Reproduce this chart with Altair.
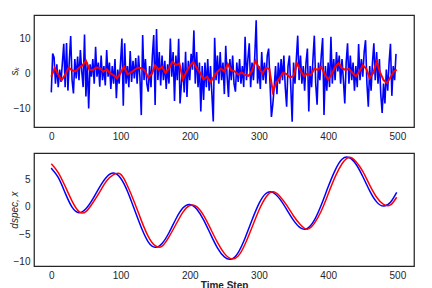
import altair as alt
import pandas as pd

# ---- top panel: noisy measurement (blue, every 2nd step) and filtered estimate (red) ----
noisy_s = [
    -5.5, 5.6, 4.5, -3.0, 2.5, -4.0, 1.0, -2.5, 3.0, 8.4,
    -4.0, 8.6, -5.0, 3.5, 10.6, -2.0, -5.8, 4.0, -1.5, 4.7,
    -2.0, 6.6, 0.5, -4.0, 11.0, -6.7, 3.0, -10.1, 2.5, -1.0,
    4.0, -3.0, 7.5, -1.0, 3.0, -3.9, 5.0, -2.0, 2.0, -3.5,
    6.6, -1.0, 3.0, -4.5, 2.0, -3.0, 4.0, -7.2, 1.0, -3.0,
    3.0, 9.9, -9.3, 8.5, -3.0, 2.0, -4.0, 6.3, -2.5, 3.5,
    -1.5, 4.3, -3.0, 5.0, -1.0, -12.0, 10.9, -2.0, 4.0, -3.0,
    -5.3, 2.0, -4.0, 5.0, 10.9, -9.1, 12.6, -2.0, 6.0, -3.5,
    5.0, -2.0, 3.5, -4.5, 2.5, -3.0, 9.9, -1.0, 6.0, -8.0,
    5.0, -2.0, 9.8, -8.7, -3.0, 3.0, -5.5, 6.1, -6.8, 3.5,
    -2.0, 5.5, 1.0, 12.2, -3.0, 6.0, -4.0, 3.0, -11.0, 2.0,
    -7.7, 3.0, -4.0, 4.0, -5.0, 2.0, -6.0, -13.8, 10.1, -2.0,
    5.0, -3.0, 6.0, -2.0, 3.0, -6.0, 7.8, -1.0, -6.8, 4.0,
    -2.0, 5.0, -3.0, -5.3, 3.0, -2.5, 4.0, -3.0, 2.0, -4.0,
    10.4, -2.0, 4.0, 8.5, -4.0, 3.0, -2.0, 5.0, 15.1, -3.0,
    2.0, -4.5, 6.0, -2.0, 3.0, -3.0, 5.0, 7.0, -3.0, -12.5,
    -9.0, -4.0, 2.0, -6.0, 3.0, -3.0, 4.0, -2.0, 5.0, -4.0,
    -9.6, 2.0, 5.0, -4.0, -13.9, 3.0, -3.0, 4.0, 10.7, -2.0,
    5.0, -3.0, 2.0, -5.0, 3.0, 7.0, -11.0, 2.0, -4.0, 4.0,
    10.7, -3.0, -9.0, 3.0, -2.0, 5.0, 10.0, -12.0, 2.0, -5.0,
    3.0, -4.0, 10.4, -3.0, 4.0, -2.0, 6.0, 0.5, 5.0, -3.0,
    4.0, -2.0, -8.7, 3.0, 8.5, -3.0, 5.0, -2.0, 3.0, -5.0,
    2.0, -4.0, 8.3, -2.0, 4.0, -1.0, 6.0, 9.4, -3.0, -9.6,
    2.0, -5.0, 3.0, 8.5, -2.0, 6.0, -3.0, 4.0, -6.0, -11.4,
    -3.0, -8.7, 1.0, -5.0, 3.0, 8.4, -6.5, 2.0, -2.0, 5.5,
]
noisy_steps = list(range(0, 2 * len(noisy_s), 2))

filtered_s = [
    -1.0, 1.5, -0.5, -2.0, -0.5, 1.5, 0.8, 0.5, 1.5, 2.2,
    3.5, 1.0, 0.9, 1.6, 1.5, 0.4, 1.1, 0.0, -0.6, -1.5,
    0.0, 1.8, -0.3, 0.1, 0.9, 1.6, 1.4, 0.8, -1.3, -0.3,
    2.2, 1.0, 1.8, 0.0, 1.3, 3.2, 2.3, 2.8, -1.8, 0.3,
    2.0, 3.2, 1.5, 0.0, -1.8, -1.0, -2.5, -1.0, 0.4, 1.3,
    0.5, 2.6, 0.8, 0.5, -0.4, 0.2, -0.5, -0.8, 0.6, 3.5,
    1.5, -0.1, 1.5, 1.2, -5.3, -2.8, -1.4, 0.1, -0.3, -1.3,
    -0.8, 2.8, 0.8, -0.9, -0.1, -0.6, 1.3, 0.9, 1.8, -0.3,
    -1.8, -0.4, 1.8, 2.8, 1.4, 0.9, 1.2, 0.1, -0.9, 0.4,
    2.2, 1.3, -1.4, 0.0, 3.2, 0.2, -2.0, -2.9, -1.2, 0.5,
    1.0,
]
filtered_steps = list(range(0, 500, 5)) + [499]

# ---- bottom panel: true state (blue) and estimate (red) ----
state_steps = list(range(0, 500, 10)) + [499]
true_x = [
    7.0, 5.3, 2.5, -0.1, -1.1, -0.4, 1.4, 3.6, 5.4, 6.1,
    5.2, 2.8, -0.5, -3.8, -6.4, -7.4, -6.7, -4.75, -2.25, -0.26,
    0.4, -0.43, -2.4, -5.0, -7.5, -9.15, -9.55, -8.35, -5.7, -2.45,
    0.53, 2.38, 2.6, 1.4, -0.5, -2.5, -3.86, -3.95, -2.46, 0.3,
    3.6, 6.6, 8.6, 8.93, 7.75, 5.47, 2.87, 0.86, 0.1, 0.8,
    2.6,
]
est_x = [
    7.8, 6.2, 3.7, 1.0, -0.9, -0.9, 0.7, 2.7, 4.7, 5.8,
    5.9, 3.8, 0.8, -2.5, -5.4, -7.1, -7.2, -5.5, -3.25, -1.05,
    0.2, 0.0, -1.6, -4.0, -6.5, -8.5, -9.5, -9.0, -6.8, -3.75,
    -0.65, 1.7, 2.7, 1.9, 0.26, -1.7, -3.3, -4.1, -3.05, -0.8,
    2.3, 5.4, 7.8, 8.95, 8.2, 6.4, 3.9, 1.7, 0.4, 0.3,
    1.7,
]

noisy_df = pd.DataFrame({"step": noisy_steps, "v": noisy_s})
filt_df = pd.DataFrame({"step": filtered_steps, "v": filtered_s})
true_df = pd.DataFrame({"step": state_steps, "v": true_x})
est_df = pd.DataFrame({"step": state_steps, "v": est_x})

W = 380
FONT = "Liberation Sans"
TXT = "#262626"
x_dom = [-25, 524]
ticks_x = [0, 100, 200, 300, 400, 500]


def xenc(title=None):
    kw = dict(values=ticks_x, grid=False, ticks=False, domain=False,
              labelPadding=4, labelFlush=False, title=title if title else None)
    return alt.X("step:Q", scale=alt.Scale(domain=x_dom, nice=False, zero=False),
                 axis=alt.Axis(**kw))


def yenc(domain, values, title):
    return alt.Y("v:Q", scale=alt.Scale(domain=domain, nice=False, zero=False),
                 axis=alt.Axis(values=values, grid=False, ticks=False, domain=False,
                               labelPadding=4, title=title, titlePadding=-6,
                               titleFontStyle="italic", titleFontWeight="normal"))


top_dom = [-15.4, 16.6]
top_blue = alt.Chart(noisy_df).mark_line(color="#0000ff", strokeWidth=1.6).encode(
    x=xenc(), y=yenc(top_dom, [-10, 0, 10], "sₖ"))
top_red = alt.Chart(filt_df).mark_line(color="#ff0000", strokeWidth=2).encode(
    x=xenc(), y=yenc(top_dom, [-10, 0, 10], "sₖ"))
top = alt.layer(top_blue, top_red).properties(width=W, height=112)

bot_dom = [-10.8, 9.75]
bot_blue = alt.Chart(true_df).mark_line(color="#0000ff", strokeWidth=1.5,
                                        interpolate="natural").encode(
    x=xenc("Time Step"), y=yenc(bot_dom, [-10, -5, 0, 5], "dspec, x"))
bot_red = alt.Chart(est_df).mark_line(color="#ff0000", strokeWidth=1.5,
                                      interpolate="natural").encode(
    x=xenc("Time Step"), y=yenc(bot_dom, [-10, -5, 0, 5], "dspec, x"))
bottom = alt.layer(bot_blue, bot_red).properties(width=W, height=113)

chart = alt.vconcat(top, bottom, spacing=10).properties(
    padding={"left": 0, "top": 6, "right": 0, "bottom": 0}
).configure_view(
    stroke="#262626", strokeWidth=1.25
).configure_axis(
    labelFont=FONT, labelFontSize=10, labelColor=TXT,
    titleFont=FONT, titleFontSize=10, titleColor=TXT,
).configure_axisX(titlePadding=0)

chart.save("out.html", embed_options={"renderer": "svg", "actions": False})
